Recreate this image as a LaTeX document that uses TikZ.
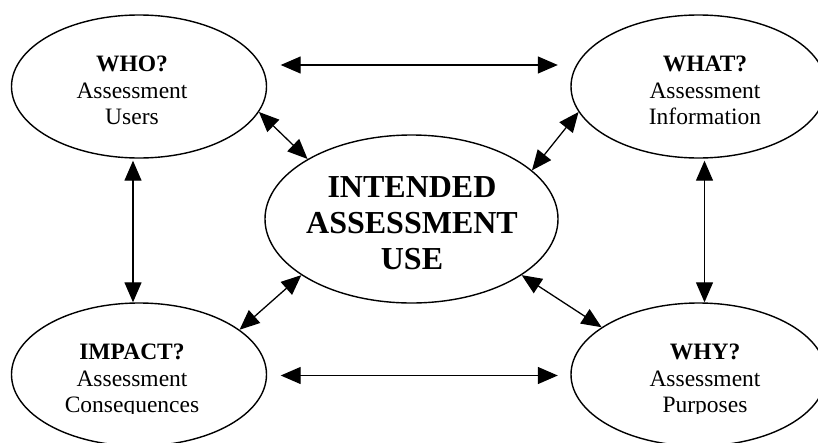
\documentclass[tikz,border=0pt]{standalone}
\usepackage{fontspec}
\setmainfont{Liberation Serif}
\usetikzlibrary{shapes.geometric,arrows.meta}
\begin{document}
\begin{tikzpicture}[x=1pt,y=-1pt,
  oval/.style={draw,ellipse,line width=1.4pt,minimum width=255pt,minimum height=143pt,inner sep=0pt},
  bigoval/.style={draw,ellipse,line width=1.4pt,minimum width=293pt,minimum height=168pt,inner sep=0pt},
  lbl/.style={align=center,inner sep=0pt,anchor=north,font=\fontsize{23.5}{26.5}\selectfont},
  biglbl/.style={align=center,inner sep=0pt,anchor=north,font=\fontsize{32}{36}\selectfont\bfseries},
  link/.style={line width=1.3pt,{Triangle[length=20pt,width=17pt]}-{Triangle[length=20pt,width=17pt]}}]
\useasboundingbox (0,0) rectangle (818,442);
\node[oval] (tl) at (139,86.5) {};
\node[oval] (tr) at (698.5,86.5) {};
\node[oval] (bl) at (139,374.5) {};
\node[oval] (br) at (698.5,374.5) {};
\node[bigoval] (c) at (411.5,219) {};
\node[lbl] (tlt) at (132,56) {\textbf{WHO?}\\Assessment\\Users};
\node[lbl] (trt) at (705,56) {\textbf{WHAT?}\\Assessment\\Information};
\begin{scope}
\clip (0,0) rectangle (818,413.5);
\node[lbl] (blt) at (132,344) {\textbf{IMPACT?}\\Assessment\\Consequences};
\node[lbl] (brt) at (705,344) {\textbf{WHY?}\\Assessment\\Purposes};
\end{scope}
\node[biglbl] (ct) at (412,176.4) {INTENDED\\ASSESSMENT\\USE};
\draw[link] ([xshift=13.5pt,yshift=21.5pt]tl.east) -- ([xshift=-12.5pt,yshift=21.5pt]tr.west);
\draw[link] ([xshift=13.5pt,yshift=-1pt]bl.east) -- ([xshift=-12.5pt,yshift=-1pt]br.west);
\draw[link] ([xshift=-6pt,yshift=-2pt]tl.south) -- ([xshift=-6pt]bl.north);
\draw[link] ([xshift=6pt,yshift=-2pt]tr.south) -- ([xshift=6pt]br.north);
\draw[link] (tl.-12.4) -- (c.150.6);
\draw[link] (tr.192.7) -- (c.22.4);
\draw[link] (bl.24.6) -- (c.207.6);
\draw[link] (br.154.8) -- (c.-27);
\end{tikzpicture}
\end{document}
